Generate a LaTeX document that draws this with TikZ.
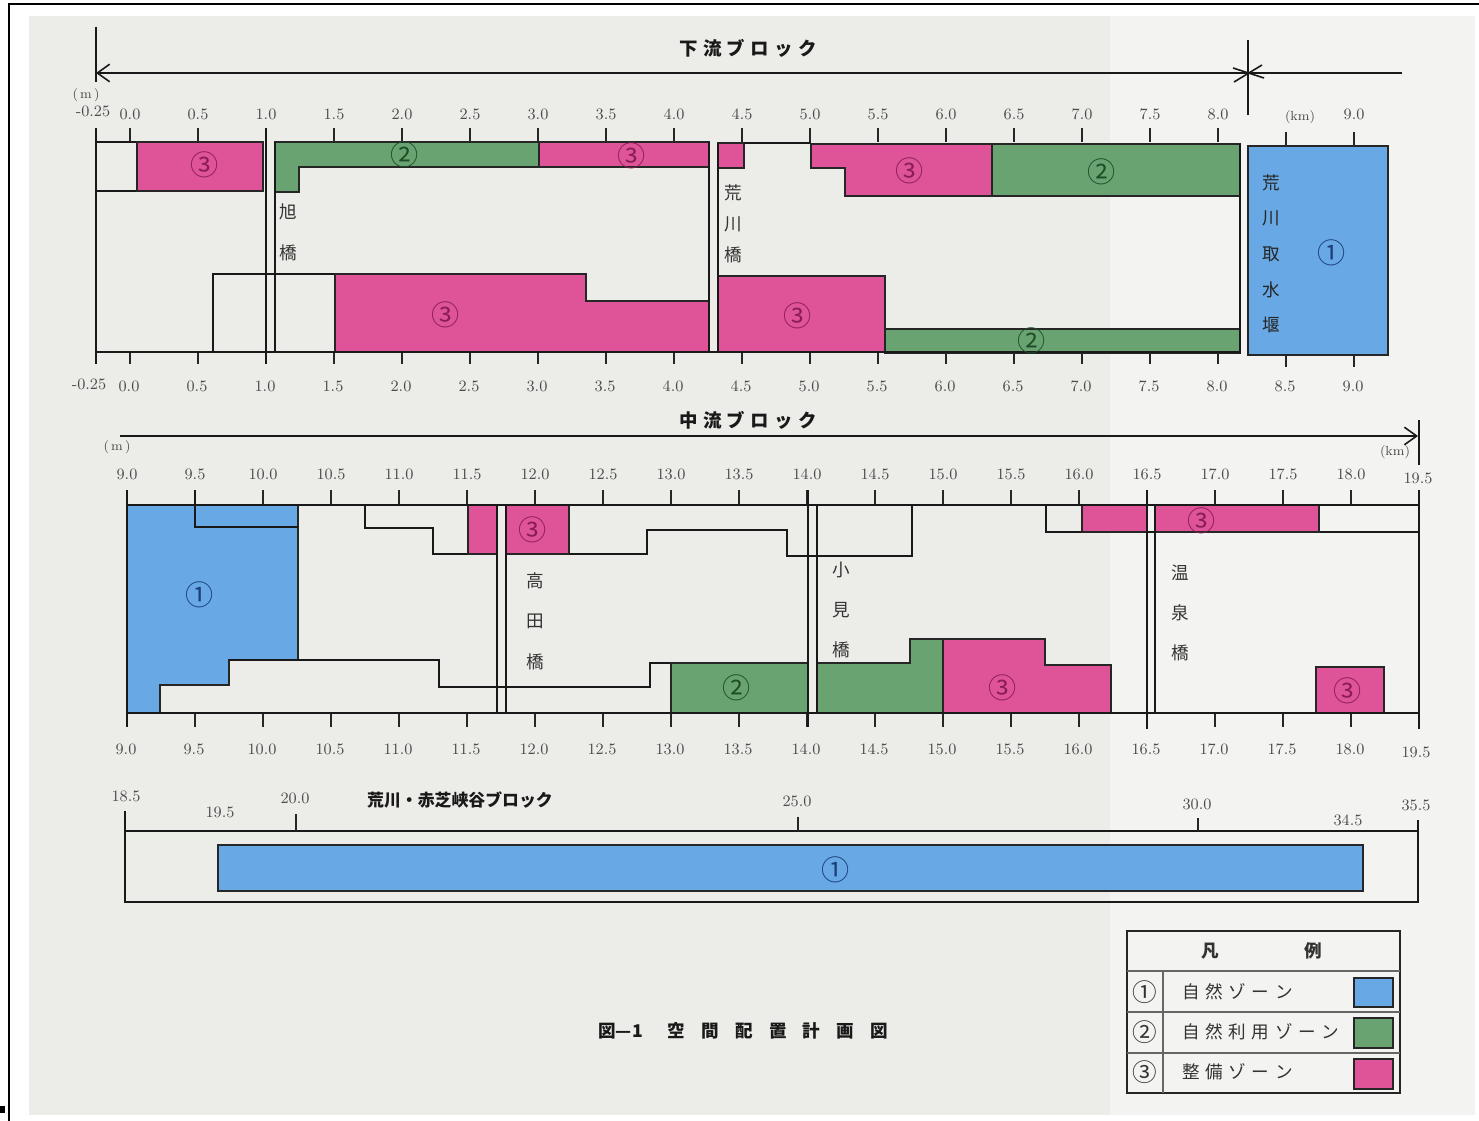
\documentclass[tikz,border=0pt]{standalone}
\usepackage{fontspec}
\newfontfamily\jp{Noto Sans CJK JP}
\usetikzlibrary{arrows.meta}
\definecolor{paper}{HTML}{ECECE9}
\definecolor{paperR}{HTML}{F3F3F1}
\definecolor{zpink}{HTML}{DF5398}
\definecolor{zgreen}{HTML}{69A372}
\definecolor{zblue}{HTML}{68A8E4}
\definecolor{tpink}{HTML}{8A1D58}
\definecolor{tgreen}{HTML}{1F4D28}
\definecolor{tblue}{HTML}{1B3F78}
\newcommand\gp{\hspace{3pt}}
\newcommand\lgp{\hspace{3.2pt}}
\newcommand\cgp{\hspace{9.3pt}}
\tikzset{
  ln/.style={line width=0.9pt,black!90},
  tk/.style={line width=0.8pt,black!85},
  z1/.style={fill=zblue,draw=black!85,line width=0.9pt},
  z2/.style={fill=zgreen,draw=black!85,line width=0.9pt},
  z3/.style={fill=zpink,draw=black!85,line width=0.9pt},
  num/.style={font=\fontsize{9}{10}\selectfont,text=black!70,inner sep=0pt},
  unit/.style={font=\fontsize{7.5}{8}\selectfont,text=black!70,inner sep=0pt},
  c1/.style={font=\jp\fontsize{16}{17}\selectfont,text=tblue,inner sep=0pt},
  c2/.style={font=\jp\fontsize{16}{17}\selectfont,text=tgreen,inner sep=0pt},
  c3/.style={font=\jp\fontsize{16}{17}\selectfont,text=tpink,inner sep=0pt},
  ttl/.style={font=\jp\bfseries\fontsize{10.5}{12}\selectfont,text=black!90,inner sep=0pt},
  brg/.style={text=black!80,inner sep=0pt,align=center},
  lg/.style={font=\jp\fontsize{10}{12}\selectfont,text=black!80,inner sep=0pt},
  barb/.style={-{Straight Barb[length=7pt,width=10pt]}}
}
\begin{document}
\begin{tikzpicture}[x=0.02cm,y=-0.02cm]
\useasboundingbox (0,0) rectangle (1479,1121);
% paper
\fill[white] (0,0) rectangle (1479,1121);
\fill[paper] (29,16) rectangle (1110,1115);
\fill[paperR] (1110,16) rectangle (1475,1115);
\draw[line width=1.4pt] (8,4) -- (1479,4);
\draw[line width=1.4pt] (9,4) -- (9,1121);
\fill[black] (0,1106) rectangle (5,1113);

% ================= 下流ブロック =================
\node[ttl] (t1) at (748,48) {下\gp 流\gp ブ\gp ロ\gp ッ\gp ク};
\coordinate (a0) at (96,73);
\coordinate (a1) at (1248,73);
\coordinate (a2) at (1402,73);
\draw[ln] (96,27) -- (96,82);
\draw[ln,barb] (a1) -- (a0);
\draw[ln] (a1) -- (a2);
\draw[ln] (1248,40) -- (1248,115);
\draw[ln] (1233,68) -- (1264,78) (1234,82) -- (1262,65);

\node[unit] (um1) at (86,95) {(\,m\,)};
\node[num] (umm) at (93,111) {-0.25};
\foreach \k [count=\i] in {0.0,0.5,1.0,1.5,2.0,2.5,3.0,3.5,4.0,4.5,5.0,5.5,6.0,6.5,7.0,7.5,8.0,9.0}
  {\node[num] (ua\i) at ({130+136*\k},114) {\k};}
\node[unit] (ukm1) at (1300,117) {(km)};
\node[num] (ubm) at (89,384) {-0.25};
\foreach \k [count=\i] in {0.0,0.5,1.0,1.5,2.0,2.5,3.0,3.5,4.0,4.5,5.0,5.5,6.0,6.5,7.0,7.5,8.0,8.5,9.0}
  {\node[num] (ub\i) at ({129+136*\k},386) {\k};}
\foreach \k in {0,0.5,1,1.5,2,2.5,3,3.5,4,4.5,5,5.5,6,6.5,7,7.5,8}
  {\draw[tk] ({130+136*\k},128) -- ({130+136*\k},142);
   \draw[tk] ({130+136*\k},352) -- ({130+136*\k},364);}
\foreach \k in {8.5,9}
  {\draw[tk] ({130+136*\k},132) -- ({130+136*\k},146);
   \draw[tk] ({130+136*\k},355) -- ({130+136*\k},367);}

% upper strip
\draw[ln] (96,142) -- (263,142);
\draw[ln] (96,191) -- (263,191);
\filldraw[z3] (137,142) rectangle (263,191);
\filldraw[z2] (275,142) -- (539,142) -- (539,167) -- (299,167) -- (299,192) -- (275,192) -- cycle;
\filldraw[z3] (539,142) rectangle (709,167);
\filldraw[z3] (718,143) rectangle (744,168);
\draw[ln] (744,143) -- (811,143);
\filldraw[z3] (811,144) -- (992,144) -- (992,196) -- (845,196) -- (845,168) -- (811,168) -- cycle;
\filldraw[z2] (992,144) rectangle (1240,196);
\filldraw[z1] (1248,146) rectangle (1388,355);
% lower strip
\draw[ln] (213,352) -- (213,274) -- (335,274);
\filldraw[z3] (335,274) -- (586,274) -- (586,301) -- (709,301) -- (709,352) -- (335,352) -- cycle;
\filldraw[z3] (718,276) rectangle (885,352);
\filldraw[z2] (885,329) rectangle (1240,353);
\draw[ln] (96,352) -- (1240,352);
% verticals / bridges
\draw[ln] (96,128) -- (96,364);
\draw[ln] (266,128) -- (266,364);
\draw[ln] (275,142) -- (275,352);
\draw[ln] (709,142) -- (709,352);
\draw[ln] (718,143) -- (718,352);
\draw[ln] (1240,144) -- (1240,354);

\node[c3] (u1) at (205,165) {③};
\node[c2] (u2) at (405,155) {②};
\node[c3] (u3) at (632,156) {③};
\node[c3] (u4) at (910,171) {③};
\node[c2] (u5) at (1102,172) {②};
\node[c1] (u6) at (1332,253) {①};
\node[c3] (u7) at (446,315) {③};
\node[c3] (u8) at (798,316) {③};
\node[c2] (u9) at (1032,341) {②};
\node[brg,font=\jp\fontsize{10}{23.2}\selectfont] (br1) at (288,232) {旭\\橋};
\node[brg,font=\jp\fontsize{10}{17.6}\selectfont] (br2) at (733,224) {荒\\川\\橋};
\node[brg,font=\jp\fontsize{10}{20.3}\selectfont,text=black!85] (br3) at (1271,254) {荒\\川\\取\\水\\堰};

% ================= 中流ブロック =================
\node[ttl] (t2) at (748,420) {中\gp 流\gp ブ\gp ロ\gp ッ\gp ク};
\coordinate (m0) at (120,436);
\coordinate (m1) at (1418,436);
\draw[ln,barb] (m0) -- (m1);
\draw[ln] (1419,420) -- (1419,465);
\node[unit] (um2) at (117,447) {(\,m\,)};
\node[unit] (ukm2) at (1395,452) {(km)};
\foreach \k [count=\i] in {9.0,9.5,10.0,10.5,11.0,11.5,12.0,12.5,13.0,13.5,14.0,14.5,15.0,15.5,16.0,16.5,17.0,17.5,18.0}
  {\node[num] (ma\i) at ({127+136*(\k-9)},474) {\k};
   \node[num] (mb\i) at ({126+136*(\k-9)},749) {\k};}
\node[num] (maz) at (1418,478) {19.5};
\node[num] (mbz) at (1416,752) {19.5};
\foreach \k in {9,9.5,10,10.5,11,11.5,12,12.5,13,13.5,14,14.5,15,15.5,16,16.5,17,17.5,18,18.5}
  {\draw[tk] ({127+136*(\k-9)},490) -- ({127+136*(\k-9)},505);
   \draw[tk] ({127+136*(\k-9)},713) -- ({127+136*(\k-9)},727);}

\filldraw[z1] (127,505) -- (298,505) -- (298,660) -- (229,660) -- (229,685) -- (160,685) -- (160,713) -- (127,713) -- cycle;
\draw[ln] (195,490) -- (195,527) -- (298,527);
\draw[ln] (365,505) -- (365,528) -- (433,528) -- (433,554) -- (468,554);
\filldraw[z3] (468,505) rectangle (497,554);
\filldraw[z3] (506,505) rectangle (569,554);
\draw[ln] (569,554) -- (647,554) -- (647,530) -- (787,530) -- (787,556) -- (912,556) -- (912,505);
\draw[ln] (1046,505) -- (1046,532) -- (1419,532);
\filldraw[z3] (1082,505) rectangle (1147,532);
\filldraw[z3] (1155,505) rectangle (1319,532);
% lower strip
\draw[ln] (229,660) -- (439,660) -- (439,687) -- (650,687) -- (650,663) -- (671,663);
\filldraw[z2] (671,663) -- (808,663) -- (808,713) -- (671,713) -- cycle;
\filldraw[z2] (817,663) -- (910,663) -- (910,639) -- (943,639) -- (943,713) -- (817,713) -- cycle;
\filldraw[z3] (943,639) -- (1045,639) -- (1045,665) -- (1111,665) -- (1111,713) -- (943,713) -- cycle;
\filldraw[z3] (1316,667) rectangle (1384,713);
\draw[ln] (127,505) -- (1419,505);
\draw[ln] (127,713) -- (1419,713);
\draw[ln] (127,490) -- (127,727);
\draw[ln] (1419,490) -- (1419,729);
\draw[ln] (497,505) -- (497,713);
\draw[ln] (506,505) -- (506,713);
\draw[ln] (808,490) -- (808,727);
\draw[ln] (817,505) -- (817,713);
\draw[ln] (1147,490) -- (1147,729);
\draw[ln] (1155,505) -- (1155,713);

\node[c1] (v1) at (200,595) {①};
\node[c3] (v2) at (533,530) {③};
\node[c3] (v3) at (1202,521) {③};
\node[c2] (v4) at (737,688) {②};
\node[c3] (v5) at (1003,688) {③};
\node[c3] (v6) at (1348,691) {③};
\node[brg,font=\jp\fontsize{10}{23}\selectfont] (br4) at (535,621) {高\\田\\橋};
\node[brg,font=\jp\fontsize{10}{23}\selectfont] (br5) at (841,610) {小\\見\\橋};
\node[brg,font=\jp\fontsize{10}{23}\selectfont] (br6) at (1180,613) {温\\泉\\橋};

% ================= 荒川・赤芝峡谷ブロック =================
\node[ttl,font=\jp\bfseries\fontsize{9.6}{11}\selectfont] (t3) at (460,800) {荒川・赤芝峡谷ブロック};
\node[num] (w1) at (126,796) {18.5};
\node[num] (w2) at (220,812) {19.5};
\node[num] (w3) at (295,798) {20.0};
\node[num] (w4) at (797,801) {25.0};
\node[num] (w5) at (1197,804) {30.0};
\node[num] (w6) at (1348,820) {34.5};
\node[num] (w7) at (1416,805) {35.5};
\draw[ln] (125,831) rectangle (1418,902);
\draw[ln] (125,811) -- (125,831);
\draw[ln] (1418,820) -- (1418,831);
\draw[tk] (296,814) -- (296,831);
\draw[tk] (798,817) -- (798,831);
\draw[tk] (1198,818) -- (1198,831);
\filldraw[z1] (218,845) rectangle (1363,891);
\node[c1] (w8) at (836,870) {①};

% ================= 凡例 =================
\draw[line width=1.2pt,black!85] (1127,931) rectangle (1400,1093);
\draw[line width=0.6pt,black!60] (1127,971) -- (1400,971) (1127,1012) -- (1400,1012)
  (1127,1053) -- (1400,1053) (1163,971) -- (1163,1093);
\node[lg,font=\jp\bfseries\fontsize{10}{12}\selectfont] (lh1) at (1210,951) {凡};
\node[lg,font=\jp\bfseries\fontsize{10}{12}\selectfont] (lh2) at (1313,951) {例};
\node[lg,font=\jp\fontsize{14}{15}\selectfont] (ln1) at (1145,992) {①};
\node[lg,font=\jp\fontsize{14}{15}\selectfont] (ln2) at (1145,1032) {②};
\node[lg,font=\jp\fontsize{14}{15}\selectfont] (ln3) at (1145,1072) {③};
\node[lg,anchor=west] (lt1) at (1182,992) {自\lgp 然\lgp ゾ\lgp ー\lgp ン};
\node[lg,anchor=west] (lt2) at (1182,1032) {自\lgp 然\lgp 利\lgp 用\lgp ゾ\lgp ー\lgp ン};
\node[lg,anchor=west] (lt3) at (1182,1072) {整\lgp 備\lgp ゾ\lgp ー\lgp ン};
\filldraw[z1,line width=0.8pt] (1354,978) rectangle (1393,1007);
\filldraw[z2,line width=0.8pt] (1354,1018) rectangle (1393,1048);
\filldraw[z3,line width=0.8pt] (1354,1059) rectangle (1393,1089);

% caption
\node[ttl,font=\jp\bfseries\fontsize{10}{12}\selectfont,anchor=west] (cap) at (598,1031)
  {図—1\hspace{14pt}空\cgp 間\cgp 配\cgp 置\cgp 計\cgp 画\cgp 図};
\end{tikzpicture}
\end{document}
